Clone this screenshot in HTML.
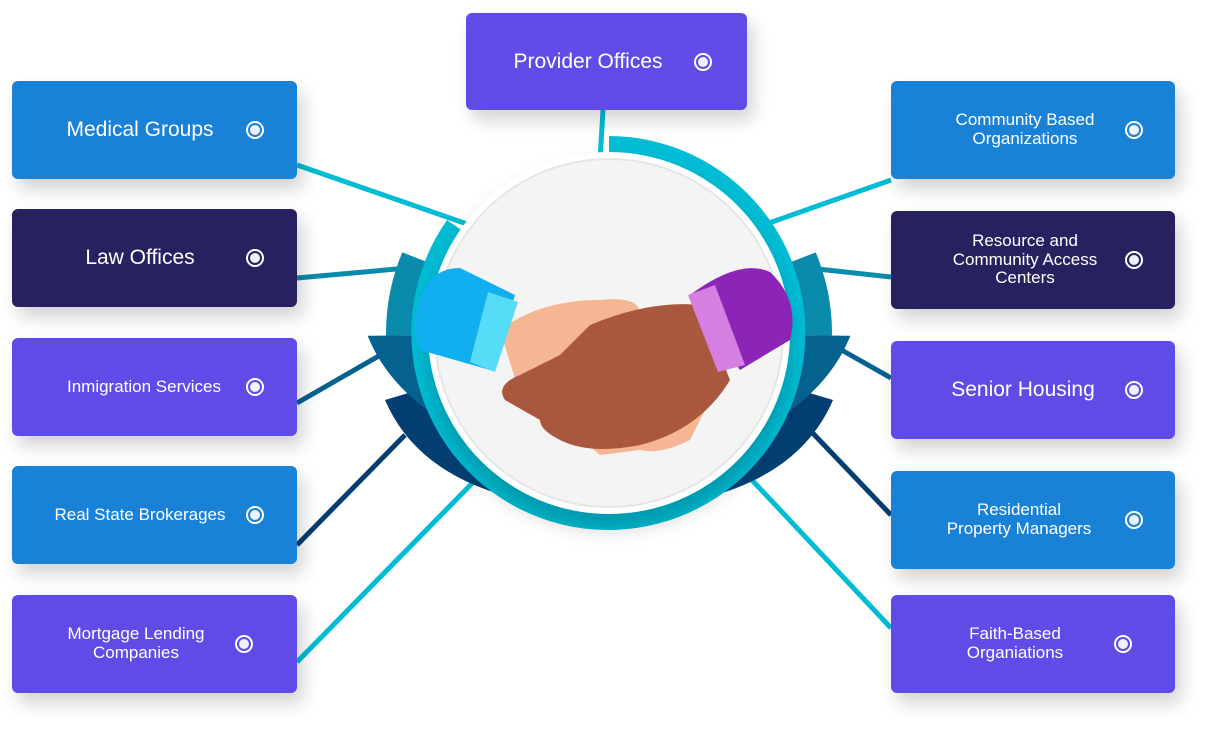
<!DOCTYPE html>
<html><head><style>
body{margin:0;width:1218px;height:736px;background:#fff;overflow:hidden;position:relative;font-family:"Liberation Sans",sans-serif}
.b{position:absolute;border-radius:6px;color:#fff;display:flex;align-items:center;box-shadow:6px 10px 18px rgba(0,0,0,.18);text-align:center;line-height:1.1}
.b span{position:absolute;width:220px;text-align:center}
.b i{position:absolute;width:18px;height:18px;border:2px solid #fff;border-radius:50%;box-sizing:border-box;}
.b i:after{content:"";position:absolute;left:2px;top:2px;width:10px;height:10px;border-radius:50%;background:#eef2ff}
.bl{background:#1a82d6}.dk{background:#27215f}.pu{background:#5f4ce6}
</style></head><body>
<svg width="1218" height="736" style="position:absolute;left:0;top:0">
<defs>
<clipPath id="cb"><polygon points="609,333 0,340 0,736 1218,736 1218,340"/></clipPath>
<clipPath id="ct"><polygon points="609,333 63,120 0,120 0,340"/><polygon points="609,333 1155,120 1218,120 1218,340"/></clipPath>
<filter id="sh" x="-20%" y="-20%" width="140%" height="150%"><feDropShadow dx="0" dy="14" stdDeviation="10" flood-opacity="0.2"/></filter>
</defs>
<g stroke-width="5" fill="none">
<line x1="603" y1="110" x2="600" y2="160" stroke="#00bcd4"/>
<line x1="297" y1="165" x2="470" y2="225" stroke="#00bcd4"/>
<line x1="297" y1="278" x2="430" y2="266" stroke="#0a8bab"/>
<line x1="297" y1="403" x2="410" y2="338" stroke="#05628f"/>
<line x1="297" y1="545" x2="405" y2="435" stroke="#033e73"/>
<line x1="297" y1="662" x2="490" y2="465" stroke="#00bcd4"/>
<line x1="891" y1="180" x2="755" y2="228" stroke="#00bcd4"/>
<line x1="891" y1="277" x2="790" y2="266" stroke="#0a8bab"/>
<line x1="891" y1="378" x2="815" y2="335" stroke="#05628f"/>
<line x1="891" y1="515" x2="805" y2="425" stroke="#033e73"/>
<line x1="891" y1="628" x2="735" y2="462" stroke="#00bcd4"/>
</g>
<path d="M609 333 L385 400 Q430 505 609 510 Q788 505 833 400 Z" fill="#033e73"/>
<ellipse cx="609" cy="290" rx="250" ry="175" fill="#05628f" clip-path="url(#cb)"/>
<ellipse cx="609" cy="333" rx="223" ry="215" fill="#0a8bab" clip-path="url(#ct)"/>
<path d="M609 333 L447 220 A197 197 0 1 0 609 136 Z" fill="#00bcd4"/>
<g transform="translate(609,333)" filter="url(#sh)">
<circle r="181" fill="#fff"/>
<circle r="174" fill="#f4f4f4" stroke="#e6e6e6" stroke-width="2"/>
</g>
<!-- hands -->
<path d="M500 330 Q540 300 600 300 Q645 295 640 320 L620 330 L700 320 L720 380 Q700 420 690 440 Q660 455 640 450 L600 455 Q570 430 520 395 Z" fill="#f5b793"/>
<path d="M590 325 Q650 300 700 305 L730 380 Q700 430 640 445 Q590 455 560 440 Q540 430 540 420 L505 400 Q495 385 520 375 L560 355 Z" fill="#a9583d"/>
<path d="M420 300 Q430 268 460 268 L515 295 L490 370 L420 350 Q410 330 420 300 Z" fill="#11aff0"/>
<path d="M488 292 L518 302 L495 372 L470 362 Z" fill="#57dcf8"/>
<path d="M690 295 Q740 258 770 272 Q800 300 790 340 L740 370 Z" fill="#8c24b8"/>
<path d="M688 295 L715 285 L745 365 L718 372 Z" fill="#d57fe1"/>
</svg>
<div class="b pu" style="left:466px;top:13px;width:281px;height:97px;font-size:21px"><span style="left:12px">Provider Offices</span><i style="left:228px"></i></div>
<div class="b bl" style="left:12px;top:81px;width:285px;height:98px;font-size:21px"><span style="left:18px">Medical Groups</span><i style="left:234px"></i></div>
<div class="b dk" style="left:12px;top:209px;width:285px;height:98px;font-size:21px"><span style="left:18px">Law Offices</span><i style="left:234px"></i></div>
<div class="b pu" style="left:12px;top:338px;width:285px;height:98px;font-size:17px"><span style="left:22px">Inmigration Services</span><i style="left:234px"></i></div>
<div class="b bl" style="left:12px;top:466px;width:285px;height:98px;font-size:17px"><span style="left:18px">Real State Brokerages</span><i style="left:234px"></i></div>
<div class="b pu" style="left:12px;top:595px;width:285px;height:98px;font-size:17px"><span style="left:14px">Mortgage Lending<br>Companies</span><i style="left:223px"></i></div>
<div class="b bl" style="left:891px;top:81px;width:284px;height:98px;font-size:17px"><span style="left:24px">Community Based<br>Organizations</span><i style="left:234px"></i></div>
<div class="b dk" style="left:891px;top:211px;width:284px;height:98px;font-size:17px"><span style="left:24px">Resource and<br>Community Access<br>Centers</span><i style="left:234px"></i></div>
<div class="b pu" style="left:891px;top:341px;width:284px;height:98px;font-size:21px"><span style="left:22px">Senior Housing</span><i style="left:234px"></i></div>
<div class="b bl" style="left:891px;top:471px;width:284px;height:98px;font-size:17px"><span style="left:18px">Residential<br>Property Managers</span><i style="left:234px"></i></div>
<div class="b pu" style="left:891px;top:595px;width:284px;height:98px;font-size:17px"><span style="left:14px">Faith-Based<br>Organiations</span><i style="left:223px"></i></div>
</body></html>
